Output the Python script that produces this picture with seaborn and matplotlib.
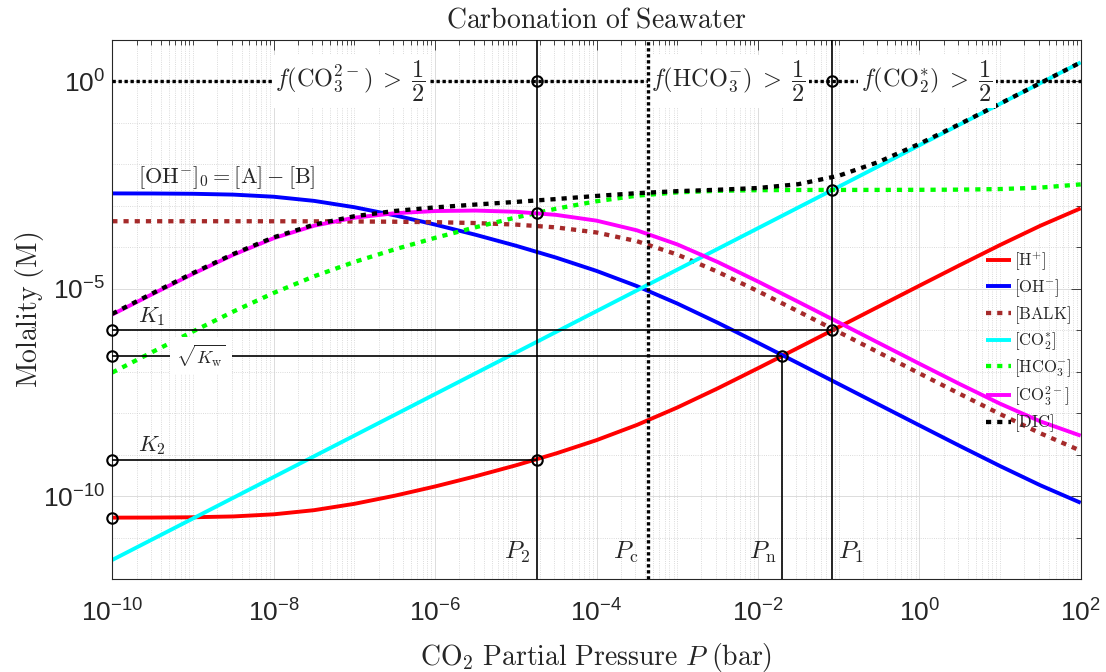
import numpy as np
import pandas as pd
import matplotlib
matplotlib.use("Agg")
import matplotlib.pyplot as plt
from matplotlib.font_manager import FontProperties
from matplotlib.ticker import FixedLocator, FuncFormatter, NullFormatter, LogLocator
import seaborn as sns

# ---------------------------------------------------------------------------
# Data: CO2 partial pressure (log10 bar) and species molalities (log10 M)
# ---------------------------------------------------------------------------
log_p = [-10.0, -9.5, -9.0, -8.5, -8.0, -7.5, -7.0, -6.5, -6.0, -5.5, -5.0, -4.5,
         -4.0, -3.5, -3.0, -2.5, -2.0, -1.5, -1.0, -0.5, 0.0, 0.5, 1.0, 1.5, 2.0]

log_h = [-10.520, -10.518, -10.511, -10.491, -10.440, -10.340, -10.187, -9.991,
         -9.768, -9.523, -9.259, -8.971, -8.651, -8.285, -7.865, -7.404, -6.918,
         -6.423, -5.925, -5.425, -4.927, -4.432, -3.945, -3.480, -3.059]
log_oh = [-2.700, -2.702, -2.709, -2.729, -2.780, -2.880, -3.033, -3.229, -3.452,
          -3.697, -3.961, -4.249, -4.569, -4.935, -5.355, -5.817, -6.302, -6.797,
          -7.296, -7.795, -8.293, -8.789, -9.275, -9.740, -10.162]
log_balk = [-3.371, -3.371, -3.371, -3.371, -3.372, -3.373, -3.377, -3.383, -3.394,
            -3.415, -3.452, -3.520, -3.642, -3.852, -4.174, -4.589, -5.057, -5.546,
            -6.042, -6.540, -7.039, -7.534, -8.021, -8.485, -8.907]
log_co2 = [-11.54, -11.04, -10.54, -10.04, -9.54, -9.04, -8.54, -8.04, -7.54, -7.04,
           -6.54, -6.04, -5.54, -5.04, -4.54, -4.04, -3.54, -3.04, -2.54, -2.04,
           -1.54, -1.04, -0.54, -0.04, 0.46]
log_hco3 = [-7.020, -6.522, -6.029, -5.549, -5.100, -4.700, -4.353, -4.049, -3.772,
            -3.517, -3.281, -3.069, -2.889, -2.755, -2.675, -2.637, -2.622, -2.617,
            -2.616, -2.615, -2.613, -2.609, -2.595, -2.560, -2.482]
log_co3 = [-5.620, -5.125, -4.638, -4.179, -3.780, -3.479, -3.286, -3.178, -3.125,
           -3.114, -3.143, -3.218, -3.357, -3.590, -3.929, -4.353, -4.824, -5.315,
           -5.811, -6.309, -6.806, -7.297, -7.771, -8.199, -8.543]
log_dic = [-5.603, -5.108, -4.621, -4.161, -3.759, -3.454, -3.250, -3.123, -3.037,
           -2.969, -2.905, -2.836, -2.761, -2.694, -2.646, -2.612, -2.570, -2.478,
           -2.275, -1.938, -1.505, -1.028, -0.536, -0.039, 0.461]

species = [r"$[\mathrm{H}^{+}]$", r"$[\mathrm{OH}^{-}]$", r"$[\mathrm{BALK}]$",
           r"$[\mathrm{CO}_2^{*}]$", r"$[\mathrm{HCO}_3^{-}]$",
           r"$[\mathrm{CO}_3^{2-}]$", r"$[\mathrm{DIC}]$"]

# equilibrium constants (log10 M)
log_k1 = -6.00
log_sqrt_kw = -6.61
log_k2 = -9.12

# characteristic pressures (log10 bar)
log_p2 = -4.74
log_pc = -3.36
log_pn = -1.70
log_p1 = -1.08

# concentrations at the characteristic pressures (log10 M)
log_co3_at_p2 = -3.17
log_co2_at_p1 = -2.62

x_ticks = [-10, -8, -6, -4, -2, 0, 2]
y_ticks = [-10, -5, 0]

# ---------------------------------------------------------------------------
# Style
# ---------------------------------------------------------------------------
sns.set_style("white")
plt.rcParams.update({
    "font.family": ["Liberation Sans", "DejaVu Sans"],
    "mathtext.fontset": "custom",
    "mathtext.rm": "Liberation Sans",
    "mathtext.it": "Liberation Sans:italic",
    "mathtext.bf": "Liberation Sans:bold",
    "mathtext.sf": "Liberation Sans",
    "axes.edgecolor": "#262626",
    "axes.linewidth": 0.8,
    "xtick.color": "#262626",
    "ytick.color": "#262626",
    "lines.solid_capstyle": "butt",
})


def cm(size):
    """Computer Modern for math-typeset labels."""
    return FontProperties(family="DejaVu Serif", size=size, math_fontfamily="cm")


P = 10.0 ** np.array(log_p)
df = pd.DataFrame({
    "P": P,
    "H": 10.0 ** np.array(log_h),
    "OH": 10.0 ** np.array(log_oh),
    "BALK": 10.0 ** np.array(log_balk),
    "CO2": 10.0 ** np.array(log_co2),
    "HCO3": 10.0 ** np.array(log_hco3),
    "CO3": 10.0 ** np.array(log_co3),
    "DIC": 10.0 ** np.array(log_dic),
})

fig = plt.figure(figsize=(11.06, 6.72), dpi=100)
ax = fig.add_axes([0.10154, 0.13839, 0.87559, 0.80208])
ax.set_xscale("log")
ax.set_yscale("log")

dot = (0, (1.2, 1.4))
curve_styles = [
    ("H", "#ff0000", "-", 2.8),
    ("OH", "#0000ff", "-", 2.8),
    ("BALK", "#a52a2a", dot, 3.1),
    ("CO2", "#00ffff", "-", 2.8),
    ("HCO3", "#00ff00", dot, 3.1),
    ("CO3", "#ff00ff", "-", 2.8),
    ("DIC", "#000000", dot, 3.1),
]

handles = []
for (col, color, ls, lw), label in zip(curve_styles, species):
    sns.lineplot(data=df, x="P", y=col, ax=ax, color=color, linestyle=ls,
                 linewidth=lw, label=label, sort=True)
    handles.append(ax.lines[-1])

# ---------------------------------------------------------------------------
# Reference lines and markers
# ---------------------------------------------------------------------------
pmin, pmax = 1e-10, 1e2
ymin, ymax = 1e-12, 1e1
K1, SKW, K2 = 10 ** log_k1, 10 ** log_sqrt_kw, 10 ** log_k2
P2, PC, PN, P1 = 10 ** log_p2, 10 ** log_pc, 10 ** log_pn, 10 ** log_p1

thin = dict(color="black", lw=1.2, zorder=3)
ax.plot([pmin, P1], [K1, K1], **thin)
ax.plot([pmin, PN], [SKW, SKW], **thin)
ax.plot([pmin, P2], [K2, K2], **thin)
ax.plot([P2, P2], [ymin, ymax], **thin)
ax.plot([P1, P1], [ymin, ymax], **thin)
ax.plot([PN, PN], [ymin, SKW], **thin)

fine_dot = (0, (1.0, 0.8))
ax.plot([pmin, pmax], [1, 1], color="black", lw=2.4, linestyle=fine_dot, zorder=3)
ax.plot([PC, PC], [ymin, ymax], color="black", lw=2.4, linestyle=fine_dot, zorder=7)

mx = [pmin, pmin, pmin, pmin, P2, P1, P2, P2, P1, P1, PN]
my = [K1, SKW, K2, 10 ** log_h[0], 1, 1, 10 ** log_co3_at_p2, K2,
      10 ** log_co2_at_p1, K1, SKW]
ax.plot(mx, my, linestyle="none", marker="o", markersize=7.5, markerfacecolor="none",
        markeredgecolor="black", markeredgewidth=1.5, zorder=8, clip_on=False)

# ---------------------------------------------------------------------------
# Text annotations
# ---------------------------------------------------------------------------
box = dict(facecolor="white", edgecolor="none", pad=2.5)
ax.text(10 ** -7.98, 1, r"$f(\mathrm{CO}_3^{2-})\;>\;\dfrac{1}{2}$", fontproperties=cm(17.5),
        ha="left", va="center", bbox=box, zorder=5)
ax.text(10 ** -3.32, 1, r"$f(\mathrm{HCO}_3^{-})\;>\;\dfrac{1}{2}$", fontproperties=cm(17.5),
        ha="left", va="center", bbox=box, zorder=5)
ax.text(10 ** -0.72, 1, r"$f(\mathrm{CO}_2^{*})\;>\;\dfrac{1}{2}$", fontproperties=cm(17.5),
        ha="left", va="center", bbox=box, zorder=5)

ax.text(10 ** -9.68, 10 ** -2.32, r"$[\mathrm{OH}^{-}]_0 = [\mathrm{A}] - [\mathrm{B}]$",
        fontproperties=cm(16), ha="left", va="center")
ax.text(10 ** -9.68, 10 ** -5.67, r"$K_1$", fontproperties=cm(16), ha="left", va="center")
ax.text(10 ** -9.68, 10 ** -8.78, r"$K_2$", fontproperties=cm(16), ha="left", va="center")
ax.text(10 ** -9.21, SKW, r"$\sqrt{K_\mathrm{w}}$", fontproperties=cm(13),
        ha="left", va="center", bbox=dict(facecolor="white", edgecolor="none", pad=4),
        zorder=5)

ylab = 10 ** -11.36
ax.annotate(r"$P_2$", (P2, ylab), xytext=(-5, 0), textcoords="offset points",
            ha="right", va="center", fontproperties=cm(18))
ax.annotate(r"$P_\mathrm{c}$", (PC, ylab), xytext=(-7, 0), textcoords="offset points",
            ha="right", va="center", fontproperties=cm(18))
ax.annotate(r"$P_\mathrm{n}$", (PN, ylab), xytext=(-4, 0), textcoords="offset points",
            ha="right", va="center", fontproperties=cm(18))
ax.annotate(r"$P_1$", (P1, ylab), xytext=(4, 0), textcoords="offset points",
            ha="left", va="center", fontproperties=cm(18))

# ---------------------------------------------------------------------------
# Axes
# ---------------------------------------------------------------------------
ax.set_xlim(pmin, pmax)
ax.set_ylim(ymin, ymax)
ax.xaxis.set_major_locator(FixedLocator([10.0 ** t for t in x_ticks]))
ax.xaxis.set_minor_locator(LogLocator(base=10, subs=np.arange(1, 10), numticks=100))
ax.yaxis.set_major_locator(FixedLocator([10.0 ** t for t in y_ticks]))
ax.yaxis.set_minor_locator(FixedLocator([10.0 ** t for t in range(-12, 2)]))
fmt = FuncFormatter(lambda v, pos: r"$10^{%d}$" % int(round(np.log10(v))))
ax.xaxis.set_major_formatter(fmt)
ax.yaxis.set_major_formatter(fmt)
ax.xaxis.set_minor_formatter(NullFormatter())
ax.yaxis.set_minor_formatter(NullFormatter())
ax.tick_params(which="both", direction="in", top=True, right=True, width=0.6,
               labelsize=19, labelcolor="#262626")
ax.tick_params(which="major", length=7)
ax.tick_params(which="minor", length=3.5)
ax.tick_params(axis="x", which="major", pad=15)
ax.tick_params(axis="y", which="major", pad=5)

ax.grid(True, which="major", color="#dcdcdc", lw=0.7, ls="-")
ax.grid(True, which="minor", color="#cfcfcf", lw=0.6, ls=":")
ax.set_axisbelow(True)

ax.set_title(r"$\mathrm{Carbonation\ of\ Seawater}$", fontproperties=cm(20), pad=9)
ax.set_xlabel(r"$\mathrm{CO}_2\ \mathrm{Partial\ Pressure}\ P\ \mathrm{(bar)}$",
              fontproperties=cm(20))
ax.set_ylabel(r"$\mathrm{Molality\ (M)}$", fontproperties=cm(20))
ax.xaxis.set_label_coords(0.5, -0.115)
ax.yaxis.set_label_coords(-0.068, 0.5)

ax.legend(handles=handles, labels=species, loc="center right",
          bbox_to_anchor=(1.0, 0.44), frameon=False, prop=cm(12),
          handlelength=1.5, handletextpad=0.15, labelspacing=0.3,
          borderaxespad=0.15)

fig.savefig("out.png", dpi=100)
